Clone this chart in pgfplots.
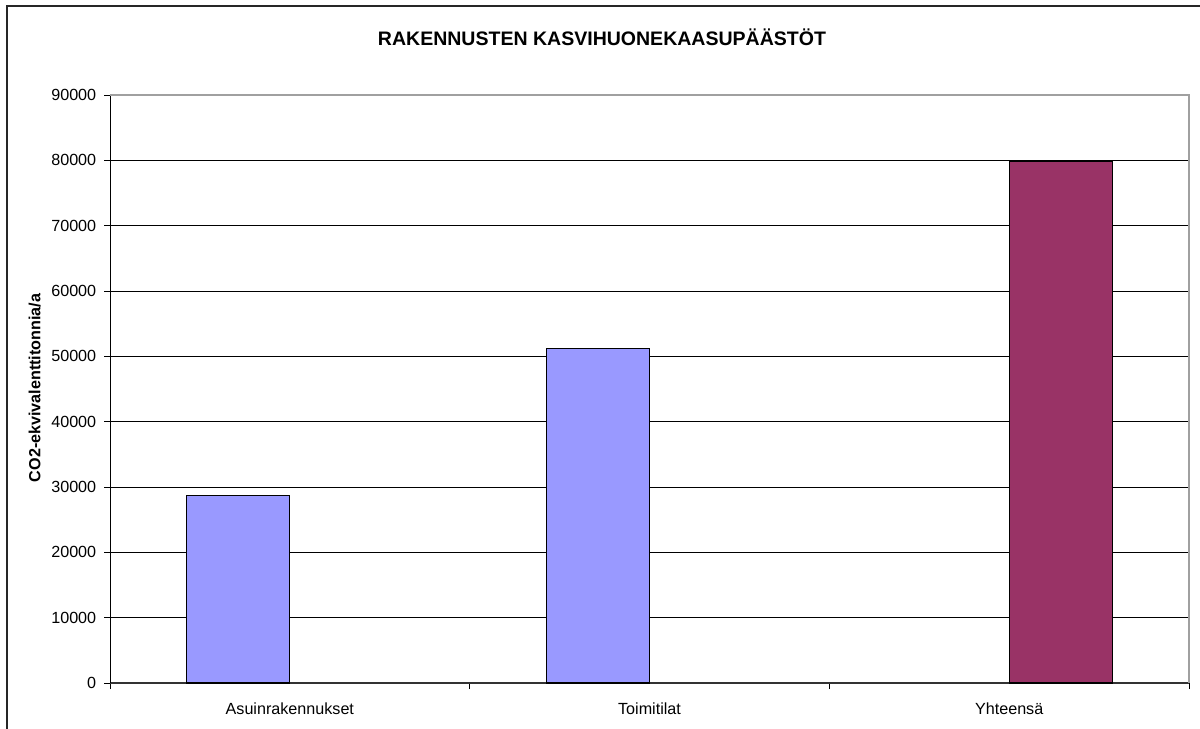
\documentclass[border=0pt]{standalone}
\usepackage{pgfplots}
\pgfplotsset{compat=1.18}
\usepackage{fontspec}
\setmainfont{Liberation Sans}
\definecolor{barblue}{HTML}{9999FF}
\definecolor{barplum}{HTML}{993366}
\definecolor{frameGray}{HTML}{A0A0A0}
\begin{document}
\begin{tikzpicture}[x=1bp,y=1bp]
\useasboundingbox (0,0) rectangle (600,364);
% chart frame
\begin{scope}
\clip (0,0) rectangle (600,364);
\draw[line width=0.8bp, black!85] (3.6,-20) -- (3.6,361) -- (620,361);
\end{scope}
\node[font=\bfseries\fontsize{9.8}{12}\selectfont] at (301,345.5) {RAKENNUSTEN KASVIHUONEKAASUPÄÄSTÖT};
\node[rotate=90, font=\bfseries\fontsize{8.1}{10}\selectfont] at (17.3,170) {CO2-ekvivalenttitonnia/a};
\begin{axis}[
  at={(55bp,22.5bp)}, anchor=south west,
  scale only axis, width=539.5bp, height=294bp,
  xmin=-0.5, xmax=2.5, ymin=0, ymax=90000,
  axis x line*=bottom, axis y line*=left,
  x axis line style={line width=0.7bp, black!80, -},
  y axis line style={line width=0.5bp, black, -},
  ytick={0,10000,...,90000},
  ymajorgrids, grid style={line width=0.5bp, black},
  xtick={-0.5,0.5,1.5,2.5}, xticklabels={},
  extra x ticks={0,1,2},
  extra x tick labels={Asuinrakennukset,Toimitilat,Yhteensä},
  extra x tick style={major tick length=0pt, grid=none,
    xticklabel style={yshift=-9.5bp}},
  tick align=outside, major tick length=3bp,
  tick style={line width=0.5bp, black},
  tick label style={font=\fontsize{8.1}{10}\selectfont},
  yticklabel style={anchor=east, inner sep=0pt, xshift=-3.7bp},
  xticklabel style={anchor=north, inner sep=0pt},
  /pgf/number format/1000 sep={},
  /pgf/number format/assume math mode=true,
  scaled y ticks=false,
  ybar, bar width=51.5bp,
  clip=false,
  after end axis/.code={
    \draw[line width=0.6bp, frameGray] (rel axis cs:0,1) -- (rel axis cs:1,1) -- (rel axis cs:1,0);
  },
]
\addplot[bar shift=-25.75bp, fill=barblue, draw=black, line width=0.6bp]
  coordinates {(0,28700) (1,51200)};
\addplot[bar shift=25.75bp, fill=barplum, draw=black, line width=0.6bp]
  coordinates {(2,79900)};
\end{axis}
\end{tikzpicture}
\end{document}
